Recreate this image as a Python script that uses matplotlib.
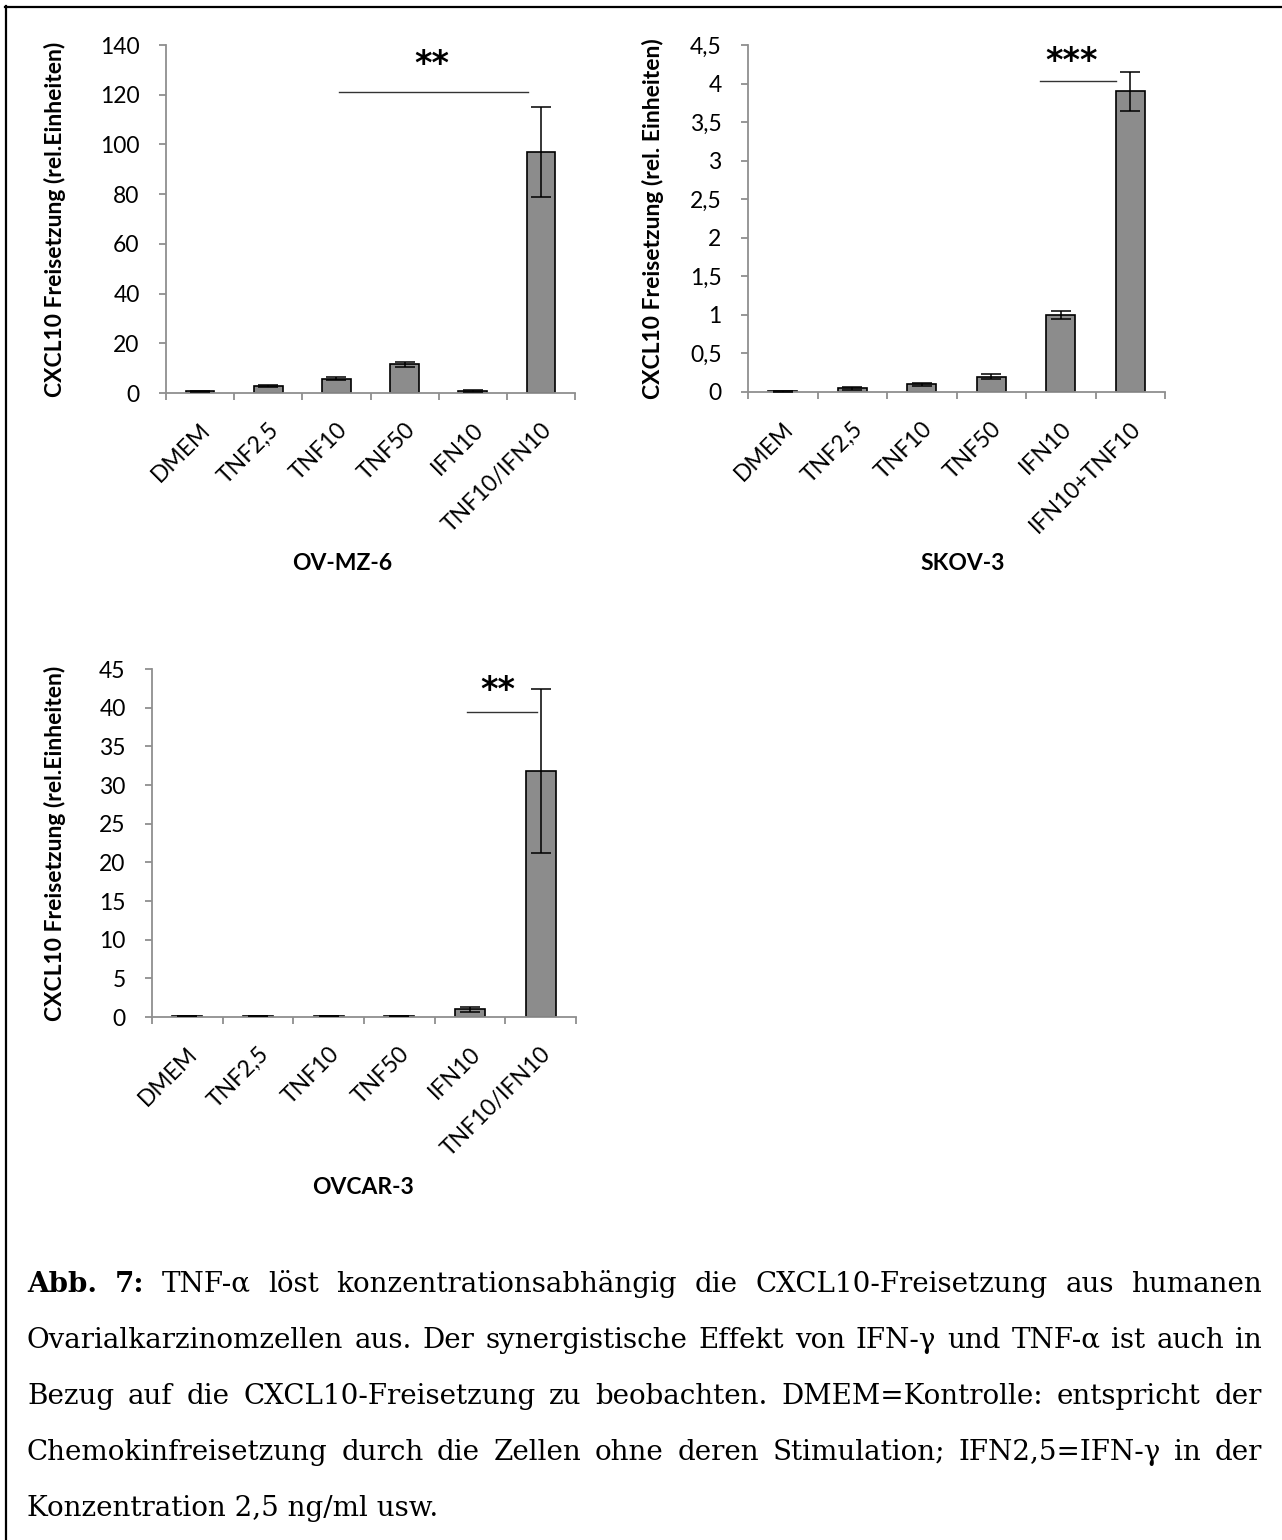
import matplotlib
matplotlib.use('Agg')
import matplotlib.pyplot as plt
from matplotlib.transforms import ScaledTranslation
from matplotlib.lines import Line2D
from matplotlib.ticker import FuncFormatter, MultipleLocator
import numpy as np

W, H = 1282, 1540

cats_tnf_ifn = ['DMEM', 'TNF2,5', 'TNF10', 'TNF50', 'IFN10', 'TNF10/IFN10']
cats_ifn_tnf = ['DMEM', 'TNF2,5', 'TNF10', 'TNF50', 'IFN10', 'IFN10+TNF10']

ovmz6_mean = [0.8, 3.0, 5.8, 11.5, 1.0, 97.0]
ovmz6_err = [0.2, 0.4, 0.6, 1.0, 0.4, 18.0]
skov3_mean = [0.01, 0.05, 0.10, 0.20, 1.00, 3.90]
skov3_err = [0.005, 0.02, 0.02, 0.03, 0.05, 0.25]
ovcar3_mean = [0.15, 0.15, 0.15, 0.15, 1.0, 31.8]
ovcar3_err = [0.0, 0.0, 0.0, 0.0, 0.35, 10.6]

# significance brackets: (x start, x end, y), stars
ovmz6_sig = (2.04, 4.81, 121, '**')
skov3_sig = (3.70, 4.79, 4.03, '***')
ovcar3_sig = (3.96, 4.95, 39.5, '**')

caption_lines = [
    [('Abb.', True), ('7:', True), ('TNF-α', False), ('löst', False), ('konzentrationsabhängig', False),
     ('die', False), ('CXCL10-Freisetzung', False), ('aus', False), ('humanen', False)],
    'Ovarialkarzinomzellen aus. Der synergistische Effekt von IFN-γ und TNF-α ist auch in',
    'Bezug auf die CXCL10-Freisetzung zu beobachten. DMEM=Kontrolle: entspricht der',
    'Chemokinfreisetzung durch die Zellen ohne deren Stimulation; IFN2,5=IFN-γ in der',
    'Konzentration 2,5 ng/ml usw.',
]

FONT = 'Lato'
CAP_FONT = 'DejaVu Serif'
GRAY = '#8c8c8c'
AXC = '#8f8f8f'

fig = plt.figure(figsize=(W / 100, H / 100), dpi=100)


def fx(x):
    return x / W


def fy(y):
    return 1 - y / H


panels = [
    dict(rect=(166, 575, 45, 393), mean=ovmz6_mean, err=ovmz6_err, cats=cats_tnf_ifn, ymax=140, step=20,
         ylabel='CXCL10 Freisetzung (rel.Einheiten)', lab_x=66, title='OV-MZ-6', title_xy=(342, 563),
         sig=ovmz6_sig, star_xy=(3.4, 132)),
    dict(rect=(748, 1165, 45, 392), mean=skov3_mean, err=skov3_err, cats=cats_ifn_tnf, ymax=4.5, step=0.5,
         ylabel='CXCL10 Freisetzung (rel. Einheiten)', lab_x=664, title='SKOV-3', title_xy=(963, 563),
         sig=skov3_sig, star_xy=(4.15, 4.28)),
    dict(rect=(152, 576, 669, 1017), mean=ovcar3_mean, err=ovcar3_err, cats=cats_tnf_ifn, ymax=45, step=5,
         ylabel='CXCL10 Freisetzung (rel.Einheiten)', lab_x=66, title='OVCAR-3', title_xy=(363, 1187),
         sig=ovcar3_sig, star_xy=(4.39, 42.2)),
]

for p in panels:
    l, r, t, b = p['rect']
    ax = fig.add_axes([fx(l), fy(b), (r - l) / W, (b - t) / H])
    x = np.arange(len(p['cats']))
    ax.bar(x, p['mean'], width=0.42, color=GRAY, edgecolor='black', linewidth=1.2, zorder=2)
    ax.errorbar(x, p['mean'], yerr=p['err'], fmt='none', ecolor='black', elinewidth=1.1,
                capsize=7, capthick=1.1, zorder=3)
    ax.set_xlim(-0.5, len(x) - 0.5)
    ax.set_ylim(0, p['ymax'])
    ax.yaxis.set_major_locator(MultipleLocator(p['step']))
    ax.yaxis.set_major_formatter(FuncFormatter(lambda v, pos: f'{v:g}'.replace('.', ',')))
    for s in ['top', 'right']:
        ax.spines[s].set_visible(False)
    for s in ['left', 'bottom']:
        ax.spines[s].set_color(AXC)
        ax.spines[s].set_linewidth(1.3)
    ax.tick_params(axis='y', length=5, width=1.3, color=AXC, pad=14, labelsize=16.5)
    ax.set_xticks(x)
    ax.set_xticks(np.arange(-0.5, len(x), 1), minor=True)
    ax.tick_params(axis='x', which='major', length=0, pad=24)
    ax.tick_params(axis='x', which='minor', length=5, width=1.3, color=AXC)
    ax.set_xticklabels(p['cats'], rotation=45, ha='right', va='center', rotation_mode='anchor', fontsize=16.5)
    off = ScaledTranslation(0.07, 0, fig.dpi_scale_trans)
    for lab in ax.get_xticklabels():
        lab.set_transform(lab.get_transform() + off)
    for lab in ax.get_xticklabels() + ax.get_yticklabels():
        lab.set_family(FONT)
    ax.set_ylabel(p['ylabel'], fontsize=16.5, fontweight='bold', family=FONT)
    ax.yaxis.set_label_coords((p['lab_x'] - l) / (r - l), 0.5)
    x0, x1, ys, stars = p['sig']
    ax.plot([x0, x1], [ys, ys], color='#333333', lw=1.0, clip_on=False)
    ax.text(p['star_xy'][0], p['star_xy'][1], stars, ha='center', va='center', fontsize=24,
            fontweight='bold', family='DejaVu Sans', clip_on=False)
    fig.text(fx(p['title_xy'][0]), fy(p['title_xy'][1]), p['title'], ha='center', va='center',
             fontsize=16.5, fontweight='bold', family=FONT)

# border (top and left only)
fig.add_artist(Line2D([fx(5), 1], [fy(7), fy(7)], color='black', lw=1.6))
fig.add_artist(Line2D([fx(6), fx(6)], [fy(6), 0], color='black', lw=1.6))

# justified caption; size chosen so the second line fills the width at normal spacing
cap_x0, cap_x1 = 27, 1262
cap_y = [1284, 1340, 1396, 1452, 1508]
renderer = fig.canvas.get_renderer()
probe = fig.text(0, 0, caption_lines[1], fontsize=10, family=CAP_FONT)
cap_fs = 10 * (cap_x1 - cap_x0) * 0.985 / probe.get_window_extent(renderer).width
probe.remove()

for i, line in enumerate(caption_lines):
    if isinstance(line, str):
        words = [(w, False) for w in line.split()]
    else:
        words = line
    if i == len(caption_lines) - 1:
        fig.text(fx(cap_x0), fy(cap_y[i]), ' '.join(w for w, _ in words), ha='left', va='center',
                 fontsize=cap_fs, family=CAP_FONT)
        continue
    texts = [fig.text(0, fy(cap_y[i]), w, ha='left', va='center', fontsize=cap_fs,
                      family=CAP_FONT, fontweight='bold' if bold else 'normal') for w, bold in words]
    widths = [t.get_window_extent(renderer).width for t in texts]
    gap = (cap_x1 - cap_x0 - sum(widths)) / (len(texts) - 1)
    xpos = cap_x0
    for t, w in zip(texts, widths):
        t.set_x(fx(xpos))
        xpos += w + gap

fig.savefig('out.png', dpi=100)
